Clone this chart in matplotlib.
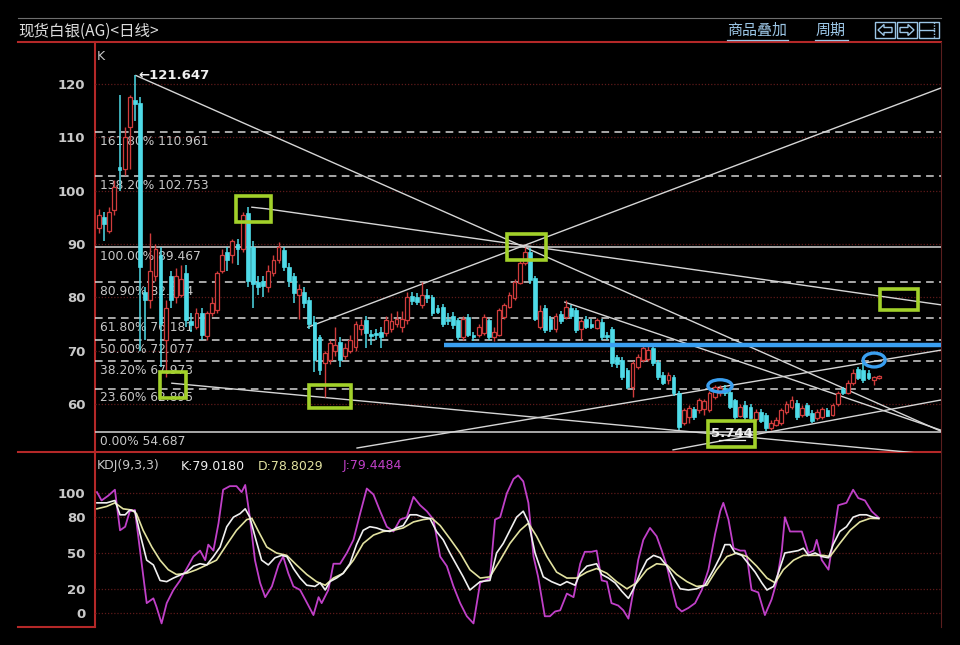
import matplotlib
matplotlib.use('Agg')
import matplotlib.pyplot as plt
import numpy as np
from matplotlib.patches import Rectangle, Ellipse, Polygon
from matplotlib import transforms

plt.rcParams['font.family'] = ['DejaVu Sans']

# ---- daily candles ----
opens = [93.0, 95.0, 92.5, 96.4, 104.5, 104.0, 112.0, 117.0, 116.4, 81.0,
         79.5, 84.0, 88.0, 72.0, 84.0, 80.0, 80.5, 84.5, 75.5, 74.5,
         77.0, 72.7, 77.0, 77.6, 85.0, 88.5, 88.0, 90.0, 89.0, 95.8,
         89.5, 82.8, 83.0, 82.0, 84.5, 87.0, 88.9, 85.7, 84.0, 80.5,
         81.0, 79.5, 75.3, 72.5, 67.6, 68.2, 70.0, 71.6, 69.0, 70.0,
         70.7, 74.0, 75.7, 73.2, 73.4, 73.5, 73.3, 74.0, 75.0, 74.5,
         75.7, 80.3, 80.0, 78.5, 80.5, 80.0, 78.0, 78.2, 76.0, 76.5,
         75.7, 72.5, 76.3, 73.0, 73.0, 73.3, 75.7, 72.5, 73.0, 76.3,
         78.2, 79.9, 82.7, 86.4, 88.5, 83.6, 74.4, 78.0, 76.0, 74.0,
         76.8, 76.3, 78.0, 77.6, 74.0, 76.0, 75.0, 74.2, 75.3, 73.0,
         74.0, 68.8, 68.2, 66.3, 63.2, 67.0, 68.2, 68.5, 70.5, 67.8,
         65.4, 64.5, 65.0, 62.0, 56.4, 57.5, 59.0, 58.8, 59.0, 58.8,
         61.3, 62.0, 63.0, 62.2, 60.7, 57.8, 59.8, 59.4, 57.2, 58.5,
         57.9, 55.5, 56.0, 56.4, 58.5, 59.4, 60.2, 58.0, 59.8, 58.4,
         57.3, 57.5, 58.8, 58.0, 60.0, 62.8, 62.0, 64.0, 66.5, 66.3,
         65.8, 64.5, 64.9]
closes = [95.5, 93.8, 96.0, 100.7, 103.8, 110.0, 117.5, 116.3, 85.7, 79.5,
          85.0, 89.0, 75.0, 78.0, 79.5, 84.0, 83.5, 75.7, 74.8, 77.0,
          73.0, 77.0, 79.0, 84.5, 88.0, 87.0, 90.5, 89.0, 95.5, 83.0,
          82.5, 82.0, 82.2, 85.0, 87.0, 89.5, 85.6, 83.0, 80.8, 81.5,
          79.0, 75.0, 68.2, 66.3, 69.5, 71.4, 71.0, 68.2, 70.5, 72.0,
          75.0, 74.8, 73.3, 72.8, 72.9, 72.5, 75.7, 75.5, 76.0, 76.0,
          80.0, 79.3, 79.2, 80.5, 79.8, 77.0, 77.3, 75.0, 75.5, 74.8,
          72.5, 76.0, 73.0, 72.6, 74.5, 76.3, 72.5, 73.5, 77.6, 78.5,
          80.4, 82.9, 86.4, 88.5, 83.2, 76.0, 77.5, 73.8, 74.0, 76.5,
          75.5, 78.2, 76.5, 73.8, 75.5, 74.5, 74.5, 75.8, 72.5, 72.5,
          67.6, 67.5, 65.0, 63.2, 67.6, 68.8, 70.5, 70.2, 67.6, 65.0,
          64.0, 65.5, 62.0, 55.6, 58.8, 59.2, 57.5, 60.7, 60.5, 62.0,
          63.2, 63.0, 62.0, 59.4, 57.5, 59.5, 57.5, 57.3, 58.5, 56.8,
          55.5, 56.5, 57.0, 58.8, 60.0, 60.7, 57.5, 59.3, 58.0, 56.8,
          58.5, 59.0, 57.8, 59.8, 62.0, 62.0, 64.0, 65.8, 64.8, 64.5,
          64.9, 65.0, 65.2]
highs = [96.5, 96.0, 97.0, 102.0, 118.0, 112.0, 118.0, 121.647, 117.5, 82.0,
         92.0, 90.0, 89.5, 79.5, 85.0, 85.5, 86.0, 86.0, 77.0, 78.0,
         78.0, 77.5, 80.0, 85.0, 89.0, 89.5, 91.0, 91.0, 96.0, 96.9,
         90.5, 84.0, 84.0, 86.0, 88.0, 90.4, 89.5, 86.5, 84.5, 82.5,
         82.0, 80.0, 76.5, 73.0, 70.0, 72.0, 74.5, 72.5, 71.5, 73.0,
         75.5, 76.0, 76.5, 73.8, 74.0, 74.5, 76.5, 77.0, 77.5, 77.5,
         81.0, 81.0, 80.8, 82.8, 81.5, 80.5, 78.5, 78.8, 77.0, 77.2,
         76.2, 76.5, 76.8, 73.5, 75.0, 76.8, 76.0, 74.5, 78.0, 79.0,
         81.0, 83.5, 87.0, 89.467, 89.2, 84.0, 78.5, 78.5, 76.5, 77.0,
         77.5, 79.5, 78.5, 78.0, 76.0, 76.5, 76.0, 76.2, 76.0, 73.5,
         74.5, 69.2, 68.8, 66.8, 68.0, 69.3, 71.0, 71.0, 71.0, 68.3,
         66.0, 66.0, 65.5, 62.5, 59.3, 59.8, 59.5, 61.2, 61.0, 62.5,
         63.5, 63.5, 63.5, 62.5, 61.0, 60.0, 60.5, 60.0, 59.0, 59.0,
         58.3, 57.0, 57.5, 59.3, 60.5, 61.5, 60.7, 59.8, 60.2, 58.8,
         59.0, 59.5, 59.2, 60.2, 62.5, 63.2, 64.5, 66.5, 67.0, 68.2,
         66.3, 65.3, 65.5]
lows = [92.0, 90.5, 92.0, 95.5, 100.0, 103.0, 104.0, 113.0, 70.0, 72.0,
        78.0, 83.0, 67.0, 65.0, 78.0, 79.0, 80.0, 74.5, 73.5, 74.0,
        72.0, 72.0, 76.5, 77.0, 84.5, 85.0, 86.5, 86.0, 88.5, 82.0,
        78.0, 80.5, 80.0, 81.0, 84.0, 86.5, 85.0, 82.0, 79.0, 76.0,
        78.0, 74.0, 66.0, 65.4, 61.3, 67.5, 69.0, 67.0, 68.5, 69.5,
        70.0, 73.0, 70.5, 71.0, 72.0, 70.5, 72.8, 73.5, 74.5, 73.5,
        75.0, 78.5, 78.6, 78.0, 79.0, 76.5, 76.8, 74.5, 74.8, 74.0,
        72.0, 72.0, 72.5, 71.8, 72.5, 73.0, 72.0, 71.8, 72.8, 76.0,
        78.0, 79.5, 82.5, 86.0, 82.5, 75.5, 74.0, 73.3, 73.5, 73.5,
        75.0, 76.0, 76.0, 73.3, 72.0, 74.0, 74.0, 74.0, 72.0, 72.0,
        67.0, 66.8, 64.5, 62.8, 61.3, 66.5, 67.8, 68.0, 67.2, 64.5,
        63.5, 63.8, 61.5, 55.2, 56.0, 56.5, 57.0, 58.3, 58.0, 58.5,
        61.0, 61.5, 61.5, 59.0, 57.0, 57.5, 57.0, 57.0, 56.8, 56.5,
        55.0, 55.2, 55.8, 56.0, 58.2, 59.0, 57.0, 57.5, 57.5, 56.5,
        57.0, 57.2, 57.5, 57.8, 59.6, 61.6, 61.8, 63.5, 64.5, 64.0,
        64.5, 63.5, 64.6]

# ---- KDJ(9,3,3) (position = candle index) ----
k_pos = [-0.4, 1.5, 3.1, 4.1, 5.1, 6.0, 7.0, 8.0, 9.3, 10.6,
         11.9, 13.2, 14.5, 16.1, 17.1, 18.4, 19.7, 21.0, 22.3, 23.6,
         24.9, 26.2, 27.5, 28.5, 29.4, 30.4, 31.7, 33.0, 34.3, 35.6,
         36.6, 37.9, 39.2, 40.5, 42.1, 43.1, 44.1, 45.0, 46.3, 47.6,
         48.9, 50.2, 51.5, 52.8, 54.1, 55.4, 56.7, 58.0, 59.3, 60.6,
         61.9, 63.2, 64.5, 65.8, 67.1, 68.4, 69.7, 71.0, 72.3, 74.3,
         76.2, 77.5, 78.8, 80.1, 81.4, 82.7, 83.7, 85.0, 86.6, 88.2,
         89.9, 91.2, 92.8, 93.8, 95.1, 97.0, 98.0, 99.3, 100.6, 101.9,
         103.2, 104.2, 105.5, 106.8, 108.1, 109.4, 110.7, 112.0, 113.3, 114.9,
         116.5, 118.1, 119.8, 121.1, 122.0, 123.0, 124.0, 125.3, 126.6, 127.9,
         129.2, 130.2, 131.5, 132.4, 133.7, 135.0, 136.3, 137.3, 138.3, 139.6,
         140.9, 142.2, 143.1, 144.4, 145.7, 147.0, 148.3, 149.6, 150.9, 152.0]
k_val = [92, 92, 94, 82, 82, 86, 85, 66, 44, 40,
         27, 26, 29, 32, 34, 39, 41, 40, 47, 55,
         72, 80, 83, 87, 80, 64, 44, 40, 46, 48,
         47, 37, 29, 23, 22, 25, 19, 26, 29, 33,
         41, 57, 69, 72, 71, 69, 68, 71, 73, 82,
         82, 80, 79, 68, 61, 50, 40, 30, 19, 26,
         27, 50, 58, 69, 80, 85, 76, 50, 30, 26,
         23, 26, 23, 33, 39, 41, 32, 29, 25, 18,
         12, 20, 33, 44, 48, 46, 39, 29, 20, 19,
         20, 23, 36, 47, 57, 57, 50, 48, 41, 34,
         25, 19, 22, 33, 50, 51, 52, 54, 48, 50,
         47, 46, 57, 68, 72, 80, 82, 82, 80, 79.018]
d_pos = [-0.4, 1.5, 3.1, 4.7, 6.4, 7.3, 8.6, 10.3, 11.9, 13.5,
         15.1, 17.1, 19.0, 21.0, 22.9, 24.9, 26.8, 28.8, 29.8, 31.1,
         32.7, 34.6, 36.6, 38.5, 40.5, 42.4, 44.1, 45.7, 47.6, 49.6,
         51.5, 53.5, 55.4, 57.4, 59.3, 61.3, 63.2, 64.9, 66.5, 68.4,
         70.4, 72.3, 74.3, 76.2, 78.2, 80.1, 82.1, 83.7, 85.3, 87.3,
         89.2, 91.2, 93.1, 95.1, 97.0, 99.0, 100.9, 102.9, 104.8, 106.8,
         108.7, 110.7, 112.6, 114.6, 116.5, 118.5, 120.4, 122.4, 124.3, 126.3,
         128.2, 130.2, 131.8, 133.4, 135.4, 137.3, 139.3, 141.2, 142.5, 144.4,
         146.4, 148.3, 150.3, 152.0]
d_val = [87, 89, 92, 87, 86, 83, 69, 55, 44, 36,
         32, 33, 36, 40, 44, 57, 69, 78, 79, 68,
         55, 50, 48, 40, 32, 26, 23, 29, 33, 44,
         58, 65, 68, 69, 71, 76, 78, 79, 73, 62,
         50, 36, 29, 30, 44, 58, 69, 75, 64, 47,
         34, 29, 29, 34, 37, 33, 26, 20, 25, 36,
         41, 40, 32, 26, 22, 23, 36, 47, 50, 47,
         39, 29, 25, 36, 44, 48, 48, 48, 47, 58,
         69, 76, 79, 78.803]
j_pos = [-0.4, 0.5, 1.8, 3.1, 4.1, 5.1, 6.0, 7.0, 8.0, 9.3,
         10.6, 11.2, 12.2, 13.2, 14.5, 15.8, 17.1, 18.4, 19.7, 20.7,
         21.3, 22.3, 23.3, 24.2, 25.5, 26.8, 27.8, 28.5, 29.4, 30.4,
         31.4, 32.4, 33.7, 35.0, 35.9, 36.9, 37.9, 39.2, 40.2, 41.8,
         42.8, 43.4, 44.7, 45.7, 47.0, 48.3, 49.6, 50.9, 52.2, 53.5,
         54.8, 56.1, 57.4, 58.7, 60.0, 61.3, 62.6, 63.9, 65.2, 66.5,
         67.8, 69.1, 70.4, 71.7, 73.0, 74.3, 76.2, 77.2, 78.2, 79.5,
         80.8, 81.7, 82.7, 83.7, 84.7, 85.6, 86.9, 87.9, 88.9, 89.9,
         91.2, 92.5, 93.8, 94.7, 96.0, 97.0, 98.0, 99.0, 99.9, 101.2,
         102.2, 103.2, 104.2, 105.1, 106.1, 107.4, 108.7, 109.7, 110.7, 111.6,
         112.6, 113.6, 114.9, 116.2, 117.5, 118.8, 120.1, 121.1, 121.7, 122.7,
         123.7, 125.0, 125.9, 126.3, 127.2, 128.5, 129.8, 131.1, 132.1, 133.1,
         133.7, 134.7, 136.0, 137.0, 138.3, 139.3, 139.9, 140.9, 142.2, 143.1,
         144.1, 145.7, 147.0, 148.0, 149.3, 150.6, 152.0]
j_val = [101, 94, 98, 103, 69, 72, 85, 86, 52, 8,
         12, 5, -9, 8, 19, 27, 37, 47, 52, 44,
         57, 52, 75, 103, 106, 106, 101, 107, 80, 44,
         25, 13, 22, 40, 47, 33, 22, 19, 11, -2,
         13, 8, 19, 41, 41, 50, 61, 83, 104, 99,
         85, 72, 68, 78, 80, 97, 90, 85, 78, 47,
         39, 22, 8, -3, -9, 25, 29, 78, 80, 100,
         112, 115, 110, 92, 47, 30, -3, -3, 1, 2,
         16, 13, 41, 51, 51, 52, 27, 26, 8, 6,
         2, -5, 19, 44, 61, 71, 64, 52, 39, 22,
         5, 1, 4, 8, 19, 36, 66, 85, 92, 78,
         54, 52, 52, 47, 19, 17, -2, 11, 26, 52,
         80, 68, 68, 68, 50, 52, 61, 44, 36, 61,
         90, 92, 103, 96, 94, 85, 79.4484]

# fibonacci retracement levels
fib_pct = [161.8, 138.2, 100.0, 80.9, 61.8, 50.0, 38.2, 23.6, 0.0]
fib_val = [110.961, 102.753, 89.467, 82.824, 76.181, 72.077, 67.973, 62.895, 54.687]

# hand-drawn trend lines (candle index, price)
trend_lines = [
    [(7.2, 121.6), (164.1, 54.9)],
    [(29.8, 96.9), (32.7, 96.6), (164.1, 78.6)],
    [(40.7, 74.4), (164.1, 119.25)],
    [(90.8, 79.1), (164.1, 55.1)],
    [(14.2, 63.9), (164.1, 50.4)],
    [(50.3, 51.75), (164.1, 70.1)],
    [(111.9, 51.4), (164.1, 60.75)],
]
support_level = 71.06
support_from = 67.25
# marker boxes: (left idx, right idx, low, high)
green_boxes = [(26.7, 33.5, 94.1, 99.0), (11.9, 17.0, 61.1, 66.0),
               (40.9, 49.1, 59.25, 63.6), (79.5, 87.1, 87.0, 91.9),
               (152.2, 159.6, 77.6, 81.6), (118.7, 127.9, 51.9, 56.8)]
blue_rings = [(121.05, 63.4, 4.7, 2.3), (151.1, 68.25, 4.3, 2.6)]

price_ticks = [60, 70, 80, 90, 100, 110, 120]
kdj_ticks = [0, 20, 50, 80, 100]

CYAN = '#4fdbe8'
RED = '#d03c3c'
GRID = '#5e1a1a'
FRAME = '#b42828'
LINE = '#d6d6d6'
GREEN = '#a2d12a'
BLUE = '#3a9ff0'
TXT = '#c8c8c8'

W, H = 960, 645
fig = plt.figure(figsize=(W / 100, H / 100), dpi=100, facecolor='black')

# background layer in pixel coordinates: frame, title bar
bg = fig.add_axes([0, 0, 1, 1])
bg.set_xlim(0, W)
bg.set_ylim(H, 0)
bg.axis('off')
bg.plot([18, 941], [18, 18], color='#6e6e6e', lw=0.8)
bg.plot([18, 941], [42, 42], color=FRAME, lw=1.5)
bg.plot([95, 95], [42, 627], color=FRAME, lw=1.5)
bg.plot([18, 941], [452, 452], color=FRAME, lw=1.5)
bg.plot([18, 95], [627, 627], color=FRAME, lw=1.5)
bg.plot([941, 941], [42, 627], color='#5a1e1e', lw=0.8)

cjk = ['Noto Sans CJK SC', 'DejaVu Sans']
bg.text(18, 31, '现货白银(AG)<日线>', family=cjk, fontsize=11.2, color='#dcdcdc',
        va='center', ha='left')
LINK = '#9cc6e6'
bg.text(757, 31, '商品叠加', family=cjk, fontsize=10.8, color=LINK, va='center', ha='center')
bg.plot([727, 788], [40, 40], color=LINK, lw=0.9)
bg.text(831, 31, '周期', family=cjk, fontsize=10.8, color=LINK, va='center', ha='center')
bg.plot([815, 848], [40, 40], color=LINK, lw=0.9)
for x0 in (875, 897, 919):
    bg.add_patch(Rectangle((x0, 22), 20, 16, fill=False, ec=LINK, lw=1))
bg.add_patch(Polygon([(878, 30), (884, 24.5), (884, 27.5), (892, 27.5), (892, 32.5),
                      (884, 32.5), (884, 35.5)], closed=True, fill=False, ec=LINK, lw=1))
bg.add_patch(Polygon([(914, 30), (908, 24.5), (908, 27.5), (900, 27.5), (900, 32.5),
                      (908, 32.5), (908, 35.5)], closed=True, fill=False, ec=LINK, lw=1))
bg.plot([919, 934], [30, 30], color=LINK, lw=1)
bg.plot([934, 934], [22, 38], color=LINK, lw=1, ls=(0, (1, 1)))

bg.text(97, 57, 'K', fontsize=9, color=TXT, va='center', ha='left')

# KDJ header
bg.text(97, 466, 'KDJ(9,3,3)', fontsize=9, color=TXT, va='center', ha='left')
bg.text(181, 466, 'K:79.0180', fontsize=9, color='#f0f0f0', va='center', ha='left')
bg.text(258, 466, 'D:78.8029', fontsize=9, color='#e2e2a0', va='center', ha='left')
bg.text(343, 466, 'J:79.4484', fontsize=9, color='#c040c8', va='center', ha='left')

XL = (-0.78, 164.13)

# ---- price panel ----
ax = fig.add_axes([95 / W, 1 - 452 / H, 846 / W, 410 / H])
ax.set_facecolor('none')
ax.set_xlim(*XL)
ax.set_ylim(51.0, 127.88)
for s in ax.spines.values():
    s.set_visible(False)
ax.set_xticks([])
ax.set_yticks(price_ticks)
ax.tick_params(axis='y', length=0, pad=7, labelcolor=TXT, labelsize=9.5)
for t in ax.get_yticklabels():
    t.set_fontweight('bold')
for v in price_ticks:
    ax.axhline(v, color=GRID, lw=0.9, ls=(0, (1, 1.5)), zorder=1)

lab_tr = transforms.blended_transform_factory(ax.transAxes, ax.transData)
for p, v in zip(fib_pct, fib_val):
    solid = p in (100.0, 0.0)
    ax.axhline(v, color=LINE, lw=1.1, ls='-' if solid else (0, (5, 3.5)), zorder=2)
    ax.text(0.006, v - 0.55, f'{p:.2f}% {v:.3f}', transform=lab_tr, fontsize=8.8,
            color=TXT, va='top', ha='left', zorder=1.5)

for pts in trend_lines:
    xs, ys = zip(*pts)
    ax.plot(xs, ys, color=LINE, lw=1.0, zorder=2)

o = np.array(opens)
c = np.array(closes)
h = np.array(highs)
l = np.array(lows)
x = np.arange(len(o))
up = c >= o
body = np.where(np.abs(c - o) < 0.2, 0.2, np.abs(c - o))
bot = np.minimum(o, c)
ax.vlines(x[~up], l[~up], h[~up], color=CYAN, lw=1.1, zorder=3)
ax.vlines(x[up], l[up], h[up], color=RED, lw=1.0, zorder=3)
ax.bar(x[~up], body[~up], bottom=bot[~up], width=0.74, color=CYAN, ec=CYAN, lw=0.5, zorder=4)
ax.bar(x[up], body[up], bottom=bot[up], width=0.74, facecolor='black', ec=RED, lw=0.9, zorder=4)

ax.plot([support_from, XL[1]], [support_level, support_level], color=BLUE, lw=3.2,
        solid_capstyle='butt', zorder=5)

for x0, x1, y0, y1 in green_boxes:
    ax.add_patch(Rectangle((x0, y0), x1 - x0, y1 - y0, fill=False, ec=GREEN, lw=2.6, zorder=6))
for cx, cy, ew, eh in blue_rings:
    ax.add_patch(Ellipse((cx, cy), ew, eh, fill=False, ec=BLUE, lw=2.4, zorder=6))

ax.text(7.6, 121.647, '←121.647', fontsize=9.5, fontweight='bold', color='#f0f0f0',
        va='center', ha='left', zorder=7)
ax.text(123.3, 54.5, '5.744', fontsize=9.5, fontweight='bold', color='#f0f0f0',
        va='center', ha='center', zorder=7)
ax.plot([120.8, 125.9], [53.3, 53.3], color='#f0f0f0', lw=0.9, zorder=7)

# ---- KDJ panel ----
kx = fig.add_axes([95 / W, 1 - 627 / H, 846 / W, 175 / H])
kx.set_facecolor('none')
kx.set_xlim(*XL)
kx.set_ylim(-12.0, 134.6)
for s in kx.spines.values():
    s.set_visible(False)
kx.set_xticks([])
kx.set_yticks(kdj_ticks)
kx.tick_params(axis='y', length=0, pad=7, labelcolor=TXT, labelsize=9.5)
for t in kx.get_yticklabels():
    t.set_fontweight('bold')
for v in kdj_ticks:
    kx.axhline(v, color=GRID, lw=0.9, ls=(0, (1, 1.5)), zorder=1)

kx.plot(j_pos, j_val, color='#c040c8', lw=1.3, zorder=2)
kx.plot(d_pos, d_val, color='#e2e2a0', lw=1.2, zorder=3)
kx.plot(k_pos, k_val, color='#f0f0f0', lw=1.2, zorder=4)

fig.savefig('out.png', dpi=100, facecolor='black')
